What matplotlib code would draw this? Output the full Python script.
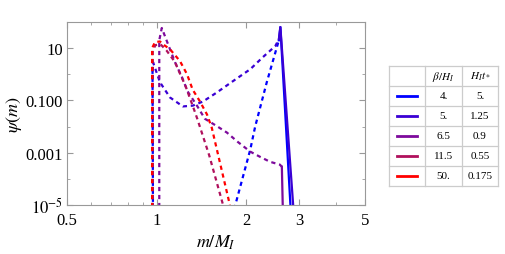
import numpy as np
import matplotlib.pyplot as plt
from matplotlib.ticker import FixedLocator, FixedFormatter, NullFormatter

plt.rcParams['font.family'] = ['Liberation Serif', 'DejaVu Serif']
plt.rcParams['mathtext.fontset'] = 'stix'

# legend table values
beta_over_H = ['4.', '5.', '6.5', '11.5', '50.']
H_t = ['5.', '1.25', '0.9', '0.55', '0.175']
colors = ['#0000ff', '#3a00d4', '#7d0a9c', '#b0105c', '#ff0000']

# curves: dashed part, then solid part (m/M_I, psi)
dash_x = [
    [0.968, 0.968, 0.972, np.nan, 1.82, 2.06, 2.14, 2.34, 2.57],
    [0.968, 0.968, 0.972, 1.026, 1.108, 1.224, 1.32, 1.43, 1.59, 1.80, 2.06, 2.27, 2.50, 2.57],
    [1.02, 1.02, 1.04, 1.108, 1.152, 1.216, 1.27, 1.37, 1.45, 1.60, 1.72, 1.87, 2.06, 2.22, 2.40, 2.59, 2.63],
    [0.97, 0.97, 0.99, 1.03, 1.08, 1.15, 1.25, 1.33, 1.37, 1.50, 1.67],
    [0.965, 0.965, 0.987, 1.026, 1.05, 1.108, 1.197, 1.264, 1.32, 1.397, 1.475, 1.53, 1.76],
]
dash_y = [
    [1e-6, 2.0, 1e-6, np.nan, 7e-6, 1.3e-3, 1e-2, 0.49, 20],
    [1e-6, 1.0, 2.9, 0.49, 0.13, 0.059, 0.063, 0.091, 0.2, 0.54, 1.56, 4.5, 12, 22],
    [1e-6, 20, 59, 9.1, 2.9, 0.77, 0.22, 0.059, 0.02, 0.01, 5.9e-3, 2.6e-3, 1.1e-3, 7e-4, 4.5e-4, 3.5e-4, 2.9e-4],
    [1e-6, 8, 13, 14, 8, 3, 0.35, 0.05, 0.019, 8e-4, 1e-5],
    [1e-6, 10, 17, 18, 14, 9.1, 3.2, 1.0, 0.26, 0.091, 0.029, 0.0091, 1e-5],
]
solid_x = [
    [2.57, 2.60, 2.81],
    [2.57, 2.60, 2.87],
    [2.63, 2.66],
    [],
    [],
]
solid_y = [
    [20, 64, 1e-5],
    [22, 64, 1e-5],
    [2.9e-4, 1e-6],
    [],
    [],
]

fig = plt.figure(figsize=(5.06, 2.55), dpi=100)
ax = fig.add_axes([67/506, 1-206/255, 298/506, 183/255])

for i in range(5):
    ax.plot(dash_x[i], dash_y[i], color=colors[i], lw=1.6, ls=(0, (1.9, 1.7)))
    if solid_x[i]:
        ax.plot(solid_x[i], solid_y[i], color=colors[i], lw=1.6)

ax.set_xscale('log')
ax.set_yscale('log')
ax.set_xlim(0.5, 5)
ax.set_ylim(1e-5, 1e2)

ax.xaxis.set_major_locator(FixedLocator([0.5, 1, 2, 3, 5]))
ax.xaxis.set_major_formatter(FixedFormatter(['0.5', '1', '2', '3', '5']))
ax.xaxis.set_minor_locator(FixedLocator([0.6, 0.7, 0.8, 0.9, 4]))
ax.xaxis.set_minor_formatter(NullFormatter())
ax.yaxis.set_major_locator(FixedLocator([1e-5, 1e-3, 1e-1, 1e1]))
ax.yaxis.set_major_formatter(FixedFormatter(['$10^{-5}$', '0.001', '0.100', '10']))
ax.yaxis.set_minor_locator(FixedLocator([1e-4, 1e-2, 1, 1e2]))
ax.yaxis.set_minor_formatter(NullFormatter())

for s in ax.spines.values():
    s.set_color('#999999')
    s.set_linewidth(0.8)
ax.tick_params(which='both', direction='in', top=True, right=True, color='#999999',
               labelsize=12)
ax.tick_params(axis='x', pad=5)
ax.tick_params(axis='y', pad=3)
ax.tick_params(which='major', length=4.5)
ax.tick_params(which='minor', length=2.5)

ax.set_xlabel('$m/M_I$', fontsize=13, labelpad=3)
ax.set_ylabel(r'$\psi(m)$', fontsize=13, labelpad=1)

# legend table
lg = fig.add_axes([389/506, 1-187/255, 109/506, 120/255])
lg.set_xlim(389, 498)
lg.set_ylim(187, 67)
lg.axis('off')
rows = [67, 87, 107, 127, 147, 167, 187]
cols = [389, 425, 462, 498]
for y in rows:
    lg.plot([cols[0], cols[-1]], [y, y], color='#cccccc', lw=0.9, clip_on=False)
for x in cols:
    lg.plot([x, x], [rows[0], rows[-1]], color='#cccccc', lw=0.9, clip_on=False)
lg.text(443.5, 77, r'$\beta/H_I$', ha='center', va='center', fontsize=8)
lg.text(480, 77, r'$H_I t_*$', ha='center', va='center', fontsize=8)
for i in range(5):
    yc = (rows[i+1] + rows[i+2]) / 2
    lg.plot([397, 417], [yc, yc], color=colors[i], lw=2)
    lg.text(443.5, yc, beta_over_H[i], ha='center', va='center', fontsize=8)
    lg.text(480, yc, H_t[i], ha='center', va='center', fontsize=8)

fig.savefig('out.png', dpi=100)
